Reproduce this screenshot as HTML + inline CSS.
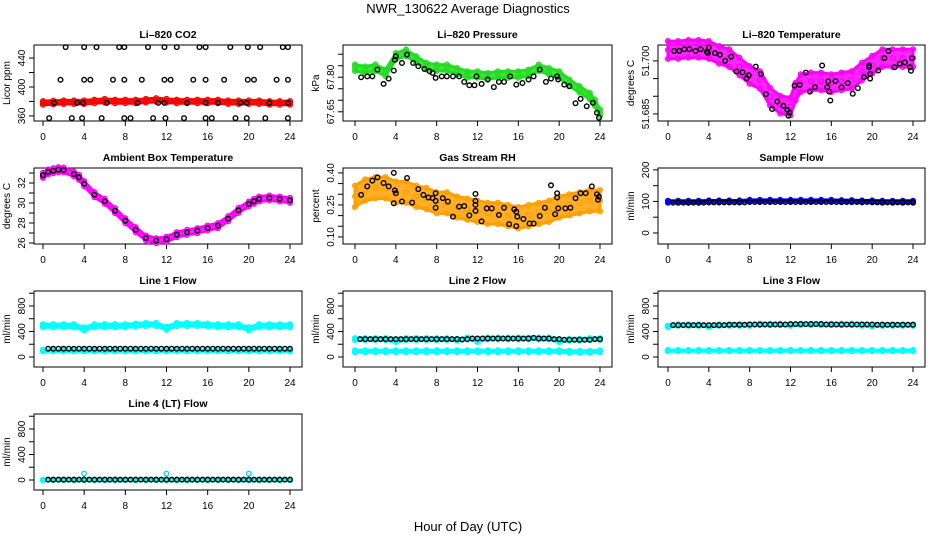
<!DOCTYPE html>
<html><head><meta charset="utf-8"><style>
html,body{margin:0;padding:0;background:#fff;}
svg{display:block;font-family:"Liberation Sans",Arial,sans-serif;}
</style></head><body>
<svg id="chart" width="936" height="540" viewBox="0 0 936 540" xmlns="http://www.w3.org/2000/svg">
<rect width="936" height="540" fill="#fff"/>
<text x="468" y="13" font-size="13" text-anchor="middle">NWR_130622  Average Diagnostics</text>
<text x="468" y="531" font-size="13" text-anchor="middle">Hour of Day (UTC)</text>
</svg>
<script>
// ---------- data ----------
const xTicks = [0,4,8,12,16,20,24];
const hours = [0,1,2,3,4,5,6,7,8,9,10,11,12,13,14,15,16,17,18,19,20,21,22,23,24];
const halfHours = [0.5,1,1.5,2,2.5,3,3.5,4,4.5,5,5.5,6,6.5,7,7.5,8,8.5,9,9.5,10,10.5,11,11.5,12,12.5,13,13.5,14,14.5,15,15.5,16,16.5,17,17.5,18,18.5,19,19.5,20,20.5,21,21.5,22,22.5,23,23.5,24];

// CO2
const co2Band = [378,378.5,379,379,379,380,381,380,380,380,381,382,381,380,380,380,380,380,379,379,379,379,378,378,378];
const co2Hours = [2.2,4,5.2,7.4,7.9,10.2,11.8,13,15.2,15.8,18.2,19.9,21.1,23.3,23.8, 1.7,4,4.6,6.8,7.9,9.6,11.8,12.4,14.6,15.8,17.6,19.9,20.5,22.7,23.8, 1.1,3.3,3.9,6.2,9.2,11.2,11.8,14,15.8,17,19.2,19.8,22,23.8, 0.6,2.8,3.8,5.7,7.9,8.5,10.7,11.9,13.7,15.8,16.4,18.7,19.8,21.6,23.8];
const co2Vals = [455,455,455,455,455,455,455,455,455,455,455,455,455,455,455, 410,410,410,410,410,410,410,410,410,410,410,410,410,410,410, 378,378,378,378,378,378,378,378,378,378,378,378,378,378, 357,357,357,357,357,357,357,357,357,357,357,357,357,357,357];

// Pressure
const presBandHours = [0,1,2,3,4,5,6,7,8,9,10,11,12,13,14,15,16,17,18,19,20,21,22,23,23.5,24];
const presBand = [67.841,67.833,67.841,67.819,67.891,67.906,67.877,67.848,67.841,67.841,67.826,67.812,67.812,67.804,67.812,67.812,67.812,67.819,67.841,67.826,67.812,67.776,67.747,67.718,67.689,67.646];
const presHours = [0.6,1.2,1.7,2.2,2.8,3.3,3.8,3.9,4,4.6,5.1,5.7,6.2,6.8,7.3,7.6,7.9,8.5,9,9.6,10.2,10.7,11.2,11.7,11.9,12.4,13,13.6,14.1,14.6,15.2,15.8,16.4,17,17.5,18.1,18.7,19.2,19.8,19.9,20.5,21,21.6,22.1,22.7,23.3,23.7,23.9];
const presVals = [67.800,67.804,67.804,67.833,67.771,67.794,67.829,67.876,67.891,67.862,67.898,67.862,67.848,67.836,67.826,67.819,67.797,67.804,67.804,67.804,67.804,67.780,67.765,67.765,67.804,67.771,67.790,67.757,67.780,67.780,67.804,67.768,67.775,67.790,67.804,67.833,67.780,67.794,67.804,67.790,67.768,67.761,67.687,67.706,67.674,67.689,67.646,67.624];

// Li-820 temperature
const tempBandHours = [0,1,2,3,4,5,6,7,8,9,10,11,12,12.5,13,14,15,16,17,18,19,20,21,22,23,24];
const tempBand = [51.7031,51.7031,51.7034,51.7034,51.7031,51.7017,51.7008,51.6984,51.6960,51.6946,51.6899,51.6876,51.6871,51.6913,51.6937,51.6942,51.6942,51.6937,51.6942,51.6946,51.6970,51.6989,51.7008,51.7008,51.7008,51.7008];
const tempHours = [0.6,1.1,1.6,2.1,2.7,3.2,3.8,3.9,4,4.6,5.1,5.6,6.2,6.7,7.3,7.7,7.9,8.6,9.1,9.6,10.2,10.7,11.3,11.7,11.8,11.9,12.4,12.9,13.5,13.9,14.4,15.1,15.6,15.7,15.8,15.9,16.4,17,17.6,18.1,18.6,19.2,19.7,19.8,19.8,19.7,20.6,21.2,21.6,22.2,22.7,23.2,23.7,23.8,23.9];
const tempVals = [51.7028,51.7028,51.7033,51.7033,51.7028,51.7033,51.7026,51.7022,51.7038,51.7022,51.7017,51.7000,51.7012,51.6970,51.6968,51.6951,51.6959,51.6984,51.6963,51.6906,51.6864,51.6885,51.6873,51.6861,51.6845,51.6854,51.6930,51.6932,51.6967,51.6913,51.6926,51.6987,51.6926,51.6942,51.6913,51.6888,51.6943,51.6925,51.6937,51.6907,51.6923,51.6954,51.6982,51.6963,51.6950,51.6987,51.6973,51.7008,51.7028,51.6982,51.6992,51.6996,51.6982,51.6972,51.7008];

// Ambient box temperature
const ambHours = [0,0.5,1,1.5,2,3,3.5,4,5,6,7,8,9,10,11,12,13,14,15,16,17,18,19,20,20.5,21,22,23,24];
const ambVals = [32.77,33.1,33.23,33.33,33.3,32.9,32.57,31.93,30.83,30.17,29.23,28.23,27.33,26.5,26.23,26.37,26.83,27.07,27.23,27.5,27.73,28.43,29.27,29.9,30.17,30.4,30.5,30.4,30.27];

// Gas stream RH
const rhBand = [0.29,0.32,0.33,0.33,0.31,0.31,0.29,0.28,0.26,0.26,0.24,0.23,0.22,0.21,0.21,0.20,0.19,0.20,0.21,0.22,0.24,0.25,0.26,0.27,0.27];
const rhHours = [0.6,1.2,1.7,2.2,2.8,3.3,3.8,3.9,4,3.8,4.6,5.1,5.6,6.2,6.7,7.2,7.6,7.9,7.9,7.9,8.6,9.1,9.6,10.2,10.7,11.2,11.8,11.8,11.8,11.8,12.4,12.9,13.4,14.1,14.6,15.1,15.6,15.8,15.8,15.9,16.5,17.1,17.5,18.1,18.6,19.2,19.6,19.8,19.8,19.9,20.6,21.1,21.6,22.1,22.6,23.2,23.7,23.8,23.9];
const rhVals = [0.297,0.337,0.364,0.379,0.353,0.337,0.400,0.318,0.305,0.258,0.266,0.376,0.261,0.324,0.297,0.285,0.282,0.305,0.269,0.237,0.282,0.266,0.195,0.242,0.245,0.201,0.302,0.269,0.250,0.222,0.173,0.234,0.234,0.203,0.237,0.160,0.229,0.218,0.151,0.195,0.184,0.163,0.163,0.198,0.237,0.342,0.207,0.305,0.285,0.234,0.234,0.237,0.282,0.305,0.305,0.337,0.300,0.274,0.289];

// Flows
const sampleBand = [99,99,99,99,100,100,100,100,102,102,102,102,102,102,102,102,102,101,101,100,100,99,99,99,99];
const sampleBlack = [96,96,96,96,96,96,96,97,97,97,97,97,97,97,97,98,98,98,98,98,98,98,98,98,98,98,98,98,98,98,98,98,98,98,98,98,98,98,98,98,97,97,97,97,97,97,97,97];
const line1Cyan = [490,490,490,490,440,490,490,490,490,500,510,510,450,510,510,510,500,490,490,490,440,490,490,490,490];
const line1Low = [100,100,100,100,100,100,100,100,100,100,100,100,100,100,100,100,100,100,100,100,100,100,100,100,100];
const line1Black = [130,130,130,130,130,130,130,130,130,130,130,130,130,130,130,130,130,130,130,130,130,130,130,130,130,130,130,130,130,130,130,130,130,130,130,130,130,130,130,130,130,130,130,130,130,130,130,130];
const line2Cyan = [280,280,280,280,250,280,280,280,280,280,270,290,250,290,290,290,290,290,290,290,250,270,270,280,280];
const line2Low = [90,90,90,90,90,90,90,90,90,90,90,90,90,90,90,90,90,90,90,90,90,80,80,80,90];
const line2Black = [280,280,280,280,280,280,280,280,280,280,280,280,280,280,280,280,280,280,280,280,275,280,290,290,290,290,290,290,290,290,290,290,290,290,300,290,290,290,280,280,270,270,270,270,270,270,280,280];
const line3Cyan = [480,500,500,500,480,500,500,500,500,510,510,510,500,510,510,510,510,510,510,500,490,500,500,500,500];
const line3Low = [100,100,100,100,100,100,100,100,100,100,100,100,100,100,100,100,100,100,100,100,100,100,100,100,100];
const line3Black = [500,500,500,500,500,500,500,500,500,500,500,505,505,505,505,510,510,510,510,510,510,510,510,515,515,515,515,515,515,515,510,510,510,510,510,510,510,510,510,510,505,505,505,505,505,505,505,505];
const line4Cyan = [0,0,0,0,0,0,0,0,0,0,0,0,0,0,0,0,0,0,0,0,0,0,0,0,0];
const line4PeakHours = [4,12,20];
const line4Peaks = [100,100,100];
const line4Black = [5,5,5,5,5,5,5,5,5,5,5,5,5,5,5,5,5,5,5,5,5,5,5,5,5,5,5,5,5,5,5,5,5,5,5,5,5,5,5,5,5,5,5,5,5,5,5,5];

// ---------- drawing ----------
const NS = 'http://www.w3.org/2000/svg';
const svg = document.getElementById('chart');
const COLS = [{l:34,r:302,x0:43,x24:290},{l:343,r:612,x0:355,x24:600},{l:658,r:925,x0:668,x24:913}];
const ROWS = [45,168,291,414];
const H = 76;

function mk(tag, parent){ const e = document.createElementNS(NS, tag); parent.appendChild(e); return e; }

function makePanel(name, title, ylab, col, row, ymin, ymax, ticks, labels){
  const c = COLS[col], top = ROWS[row], bot = top + H;
  const g = mk('g', svg);
  
  
  const sx = v => c.x0 + (c.x24 - c.x0) * v / 24;
  const sy = v => bot - (v - ymin) / (ymax - ymin) * H;
  const t = mk('text', g);
  
  
  t.setAttribute('x', (c.l + c.r) / 2); t.setAttribute('y', top - 7);
  t.setAttribute('font-size', '10.5'); t.setAttribute('font-weight', 'bold'); t.setAttribute('text-anchor', 'middle');
  t.textContent = title;
  const box = mk('rect', g);
  
  
  box.setAttribute('x', c.l); box.setAttribute('y', top); box.setAttribute('width', c.r - c.l); box.setAttribute('height', H);
  box.setAttribute('fill', 'none'); box.setAttribute('stroke', '#000'); box.setAttribute('stroke-width', '1');
  const xa = mk('g', g);
  
  
  const xl = mk('line', xa);
  xl.setAttribute('x1', sx(xTicks[0])); xl.setAttribute('x2', sx(xTicks[xTicks.length-1]));
  xl.setAttribute('y1', bot); xl.setAttribute('y2', bot); xl.setAttribute('stroke', '#000');
  xTicks.forEach(v => {
    const tk = mk('line', xa);
    tk.setAttribute('x1', sx(v)); tk.setAttribute('x2', sx(v)); tk.setAttribute('y1', bot); tk.setAttribute('y2', bot + 5); tk.setAttribute('stroke', '#000');
    const tl = mk('text', xa);
    
    
    tl.setAttribute('x', sx(v)); tl.setAttribute('y', bot + 19); tl.setAttribute('font-size', '10'); tl.setAttribute('text-anchor', 'middle');
    tl.textContent = v;
  });
  const ya = mk('g', g);
  
  
  const yl = mk('line', ya);
  yl.setAttribute('x1', c.l); yl.setAttribute('x2', c.l);
  yl.setAttribute('y1', sy(ticks[0])); yl.setAttribute('y2', sy(ticks[ticks.length-1])); yl.setAttribute('stroke', '#000');
  ticks.forEach(v => {
    const tk = mk('line', ya);
    tk.setAttribute('x1', c.l - 5); tk.setAttribute('x2', c.l); tk.setAttribute('y1', sy(v)); tk.setAttribute('y2', sy(v)); tk.setAttribute('stroke', '#000');
  });
  labels.forEach(lb => {
    const tl = mk('text', ya);
    
    
    const x = c.l - 9, y = sy(parseFloat(lb));
    tl.setAttribute('transform', 'translate(' + x + ',' + y + ') rotate(-90)');
    tl.setAttribute('font-size', '10'); tl.setAttribute('text-anchor', 'middle');
    tl.textContent = lb;
  });
  const yt = mk('text', g);
  
  
  yt.setAttribute('transform', 'translate(' + (c.l - 24) + ',' + (top + H/2) + ') rotate(-90)');
  yt.setAttribute('font-size', '10'); yt.setAttribute('text-anchor', 'middle');
  yt.textContent = ylab;
  const plot = mk('g', g);
  
  
  return {g: plot, sx, sy};
}

function band(p, xs, ys, spread, color, name){
  const bg = mk('g', p.g);
  
  
  const upper = xs.map((x,i) => p.sx(x) + ',' + p.sy(ys[i] + spread));
  const lower = xs.map((x,i) => p.sx(x) + ',' + p.sy(ys[i] - spread)).reverse();
  const poly = mk('polygon', bg);
  poly.setAttribute('points', upper.concat(lower).join(' '));
  poly.setAttribute('fill', color); poly.setAttribute('fill-opacity', '0.85'); poly.setAttribute('stroke', color); poly.setAttribute('stroke-width', '3');
  xs.forEach((x,i) => {
    [-spread, 0, spread].forEach(d => {
      const ci = mk('circle', bg);
      
      
      ci.setAttribute('cx', p.sx(x)); ci.setAttribute('cy', p.sy(ys[i] + d)); ci.setAttribute('r', '2.4');
      ci.setAttribute('fill', 'none'); ci.setAttribute('stroke', color); ci.setAttribute('stroke-width', '1.3');
    });
  });
}

function points(p, xs, ys, color, name){
  const pg = mk('g', p.g);
  
  
  xs.forEach((x,i) => {
    const ci = mk('circle', pg);
    
    
    ci.setAttribute('cx', p.sx(x)); ci.setAttribute('cy', p.sy(ys[i])); ci.setAttribute('r', '2.3');
    ci.setAttribute('fill', 'none'); ci.setAttribute('stroke', color); ci.setAttribute('stroke-width', '1.4');
  });
}

const flowTicks = [0,200,400,600,800,1000], flowLabels = ['0','400','800'];

let p = makePanel('co2-panel', 'Li\u2013820 CO2', 'Licor ppm', 0, 0, 353, 458, [360,380,400,420,440], ['360','400','440']);
band(p, hours, co2Band, 2.5, '#ff0000', 'co2-band');
points(p, co2Hours, co2Vals, '#000', 'co2-avg');

p = makePanel('pressure-panel', 'Li\u2013820 Pressure', 'kPa', 1, 0, 67.61, 67.94, [67.65,67.70,67.75,67.80,67.85,67.90], ['67.65','67.80']);
band(p, presBandHours, presBand, 0.014, '#22dd22', 'pressure-band');
points(p, presHours, presVals, '#000', 'pressure-avg');

p = makePanel('temperature-panel', 'Li\u2013820 Temperature', 'degrees C', 2, 0, 51.683, 51.7045, [51.685,51.690,51.695,51.700], ['51.685','51.700']);
band(p, tempBandHours, tempBand, 0.0025, '#ff00ff', 'temperature-band');
points(p, tempHours, tempVals, '#000', 'temperature-avg');

p = makePanel('ambient-panel', 'Ambient Box Temperature', 'degrees C', 0, 1, 25.9, 33.5, [26,27,28,29,30,31,32,33], ['26','28','30','32']);
band(p, ambHours, ambVals, 0.25, '#ff00ff', 'ambient-band');
points(p, ambHours, ambVals, '#000', 'ambient-avg');

p = makePanel('rh-panel', 'Gas Stream RH', 'percent', 1, 1, 0.067, 0.423, [0.10,0.15,0.20,0.25,0.30,0.35,0.40], ['0.10','0.25','0.40']);
band(p, hours, rhBand, 0.05, '#ffa000', 'rh-band');
points(p, rhHours, rhVals, '#000', 'rh-avg');

p = makePanel('sample-flow-panel', 'Sample Flow', 'ml/min', 2, 1, -35, 206, [0,50,100,150,200], ['0','100','200']);
band(p, hours, sampleBand, 3, '#0000ff', 'sample-flow-band');
points(p, halfHours, sampleBlack, '#000', 'sample-flow-avg');

p = makePanel('line1-panel', 'Line 1 Flow', 'ml/min', 0, 2, -157, 1035, flowTicks, flowLabels);
band(p, hours, line1Cyan, 25, '#00ffff', 'line1-high-band');
band(p, hours, line1Low, 12, '#00ffff', 'line1-low-band');
points(p, halfHours, line1Black, '#000', 'line1-avg');

p = makePanel('line2-panel', 'Line 2 Flow', 'ml/min', 1, 2, -157, 1035, flowTicks, flowLabels);
band(p, hours, line2Cyan, 15, '#00ffff', 'line2-high-band');
band(p, hours, line2Low, 15, '#00ffff', 'line2-low-band');
points(p, halfHours, line2Black, '#000', 'line2-avg');

p = makePanel('line3-panel', 'Line 3 Flow', 'ml/min', 2, 2, -157, 1035, flowTicks, flowLabels);
band(p, hours, line3Cyan, 12, '#00ffff', 'line3-high-band');
band(p, hours, line3Low, 10, '#00ffff', 'line3-low-band');
points(p, halfHours, line3Black, '#000', 'line3-avg');

p = makePanel('line4-panel', 'Line 4 (LT) Flow', 'ml/min', 0, 3, -157, 1035, flowTicks, flowLabels);
band(p, hours, line4Cyan, 5, '#00ffff', 'line4-band');
points(p, line4PeakHours, line4Peaks, '#00e0e0', 'line4-peaks');
points(p, halfHours, line4Black, '#000', 'line4-avg');
</script>
</body></html>
